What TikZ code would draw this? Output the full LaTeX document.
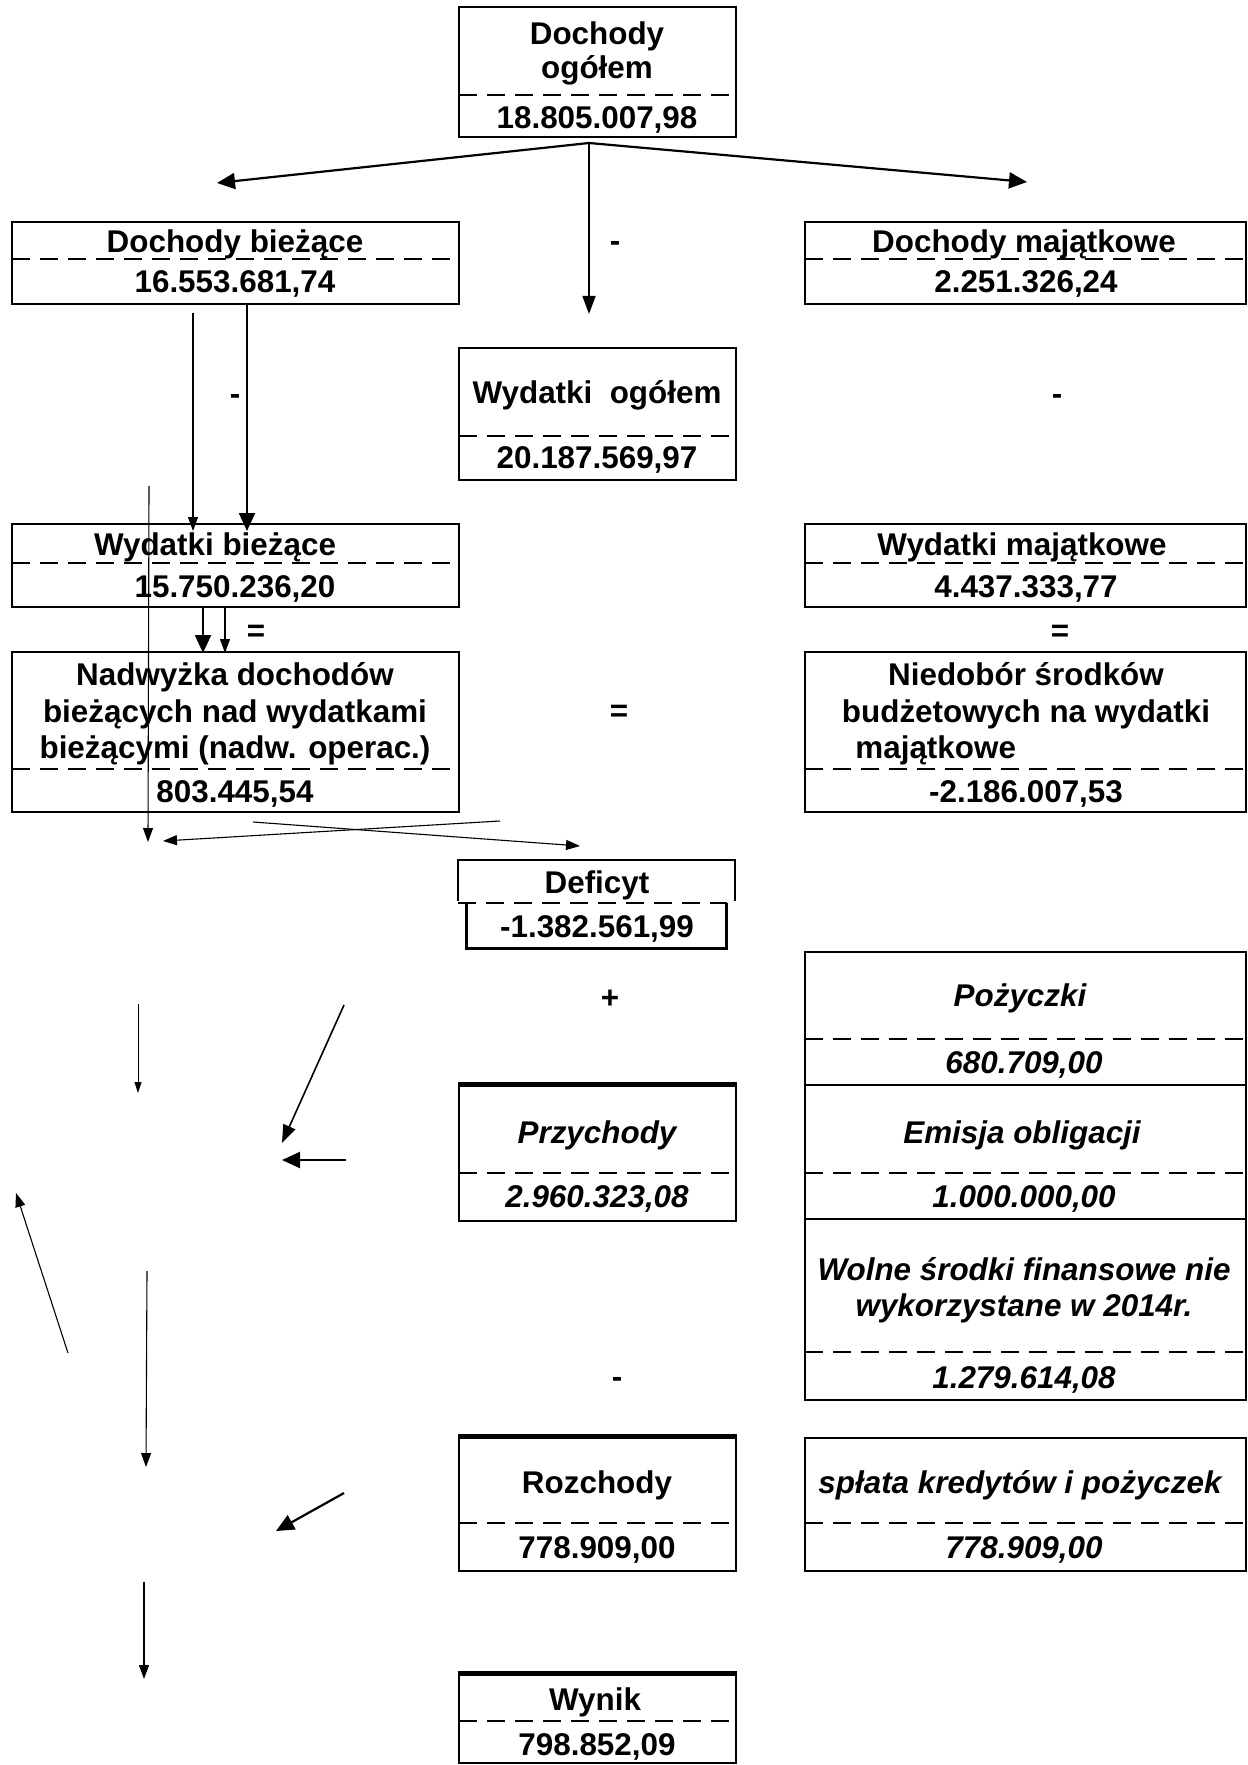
\documentclass[tikz,border=0pt]{standalone}
\usepackage{fontspec}
\setmainfont{Liberation Sans}
\usetikzlibrary{arrows.meta,fit}
\begin{document}
\begin{tikzpicture}[x=0.5pt,y=-0.5pt,
 box/.style={draw,line width=0.9pt,inner sep=0pt},
 heavy/.style={draw,line width=1.4pt,inner sep=0pt},
 sep/.style={line width=1.1pt,dash pattern=on 9pt off 5pt},
 t/.style={font=\bfseries\fontsize{15.7}{18.5}\selectfont,inner sep=0pt,anchor=base},
 ti/.style={font=\bfseries\itshape\fontsize{15.7}{18.5}\selectfont,inner sep=0pt,anchor=base},
 athick/.style={line width=1.1pt,-{Triangle[length=9pt,width=8pt]}},
 amed/.style={line width=0.8pt,-{Triangle[length=9pt,width=6.5pt]}},
 athin/.style={line width=0.55pt,-{Triangle[length=7pt,width=5pt]}},
 afine/.style={line width=0.45pt,-{Triangle[length=5.5pt,width=3.5pt]}},
]
\useasboundingbox (0,0) rectangle (1247,1765);

% ---------- boxes ----------
\node[box,fit={(459,7) (736,137)}] (dog) {};
\draw[sep] (459,95) -- (736,95);
\node[t] (dogA) at (597,45) {Dochody};
\node[t] (dogB) at (597,79) {ogółem};
\node[t] (dogV) at (597,129) {18.805.007,98};

\node[box,fit={(12,222) (459,304)}] (dbi) {};
\draw[sep] (12,259) -- (459,259);
\node[t] (dbiA) at (235,253) {Dochody bieżące};
\node[t] (dbiV) at (235,293) {16.553.681,74};

\node[box,fit={(805,222) (1246,304)}] (dma) {};
\draw[sep] (805,259) -- (1246,259);
\node[t] (dmaA) at (1024,253) {Dochody majątkowe};
\node[t] (dmaV) at (1026,293) {2.251.326,24};

\node[box,fit={(459,348) (736,480)}] (wog) {};
\draw[sep] (459,436) -- (736,436);
\node[t] (wogA) at (597,403) {Wydatki\ \ ogółem};
\node[t] (wogV) at (597,468) {20.187.569,97};

\node[box,fit={(12,524) (459,607)}] (wbi) {};
\draw[sep] (12,563) -- (459,563);
\node[t] (wbiA) at (215,555) {Wydatki bieżące};
\node[t] (wbiV) at (235,597) {15.750.236,20};

\node[box,fit={(805,524) (1246,607)}] (wma) {};
\draw[sep] (805,563) -- (1246,563);
\node[t] (wmaA) at (1022,555) {Wydatki majątkowe};
\node[t] (wmaV) at (1026,597) {4.437.333,77};

\node[box,fit={(12,652) (459,812)}] (nad) {};
\draw[sep] (12,769) -- (459,769);
\node[t] (nadA) at (235,685) {Nadwyżka dochodów};
\node[t] (nadB) at (235,722) {bieżących nad wydatkami};
\node[t] (nadC) at (235,758) {bieżącymi (nadw. operac.)};
\node[t] (nadV) at (235,802) {803.445,54};

\node[box,fit={(805,652) (1246,812)}] (nie) {};
\draw[sep] (805,769) -- (1246,769);
\node[t] (nieA) at (1026,685) {Niedobór środków};
\node[t] (nieB) at (1026,722) {budżetowych na wydatki};
\node[t,anchor=base west] (nieC) at (855,758) {majątkowe};
\node[t] (nieV) at (1026,802) {-2.186.007,53};

% Deficyt
\draw[line width=1.3pt] (458,901) -- (458,860) -- (735,860) -- (735,901);
\node[t] (defA) at (597,893) {Deficyt};
\node[inner sep=0pt,fit={(467,903) (726,948)}] (defV) {};
\draw[line width=1.3pt] (defV.north west) -- (defV.south west) -- (defV.south east) -- (defV.north east);
\draw[sep] (458,903) -- (727,903);
\node[t] (defVt) at (597,937) {-1.382.561,99};

% stack on the right
\node[box,fit={(805,952) (1246,1085)}] (poz) {};
\draw[sep] (805,1039) -- (1246,1039);
\node[ti] (pozA) at (1020,1006) {Pożyczki};
\node[ti] (pozV) at (1024,1073) {680.709,00};

\node[box,fit={(805,1085) (1246,1219)}] (emi) {};
\draw[sep] (805,1173) -- (1246,1173);
\node[ti] (emiA) at (1022,1143) {Emisja obligacji};
\node[ti] (emiV) at (1024,1207) {1.000.000,00};

\node[box,fit={(805,1219) (1246,1400)}] (wol) {};
\draw[sep] (805,1352) -- (1246,1352);
\node[ti] (wolA) at (1024,1280) {Wolne środki finansowe nie};
\node[ti] (wolB) at (1024,1316) {wykorzystane w 2014r.};
\node[ti] (wolV) at (1024,1388) {1.279.614,08};

\node[heavy,fit={(459,1086) (736,1221)}] (prz) {};
\draw[line width=2.2pt] (prz.north west) -- (prz.north east);
\draw[sep] (459,1173) -- (736,1173);
\node[ti] (przA) at (597,1143) {Przychody};
\node[ti] (przV) at (597,1207) {2.960.323,08};

\node[heavy,fit={(459,1438) (736,1571)}] (roz) {};
\draw[line width=2.2pt] (roz.north west) -- (roz.north east);
\draw[sep] (459,1523) -- (736,1523);
\node[t] (rozA) at (597,1493) {Rozchody};
\node[t] (rozV) at (597,1558) {778.909,00};

\node[box,fit={(805,1438) (1246,1571)}] (spl) {};
\draw[sep] (805,1523) -- (1246,1523);
\node[ti] (splA) at (1020,1493) {spłata kredytów i pożyczek};
\node[ti] (splV) at (1024,1558) {778.909,00};

\node[heavy,fit={(459,1675) (736,1763)}] (wyn) {};
\draw[line width=2.2pt] (wyn.north west) -- (wyn.north east);
\draw[sep] (459,1721) -- (736,1721);
\node[t] (wynA) at (595,1710) {Wynik};
\node[t] (wynV) at (597,1755) {798.852,09};

% ---------- operators ----------
\node[t] (op1) at (615,252) {-};
\node[t] (op2) at (235,404) {-};
\node[t] (op3) at (1057,404) {-};
\node[t] (op4) at (256,641) {=};
\node[t] (op5) at (1060,641) {=};
\node[t] (op6) at (619,721) {=};
\node[t] (op7) at (610,1008) {+};
\node[t] (op8) at (617,1387) {-};

% ---------- connector ends ----------
\coordinate (s0) at (589,143);
\coordinate (e1) at (217,183);
\coordinate (e2) at (1027,182);
\coordinate (e3) at (589,314);
\coordinate (s4) at (193,313);
\coordinate (e4) at (193,531);
\coordinate (s5) at (247,304);
\coordinate (e5) at (247,531);
\coordinate (s6) at (149,486);
\coordinate (e6) at (148,842);
\coordinate (s7) at (203,606);
\coordinate (e7) at (203,653);
\coordinate (s8) at (225,608);
\coordinate (e8) at (225,653);
\coordinate (s9) at (500,821);
\coordinate (e9) at (163,841);
\coordinate (s10) at (253,822);
\coordinate (e10) at (580,846);
\coordinate (s11) at (138,1004);
\coordinate (e11) at (138,1093);
\coordinate (s12) at (344,1005);
\coordinate (e12) at (282,1143);
\coordinate (s13) at (346,1160);
\coordinate (e13) at (282,1160);
\coordinate (s14) at (68,1353);
\coordinate (e14) at (16,1193);
\coordinate (s15) at (147,1271);
\coordinate (e15) at (146,1467);
\coordinate (s16) at (344,1493);
\coordinate (e16) at (276,1531);
\coordinate (s17) at (144,1582);
\coordinate (e17) at (144,1679);

% ---------- connectors ----------
\draw[athick] (s0) -- (e1);
\draw[athick] (s0) -- (e2);
\draw[amed] (s0) -- (e3);
\draw[athin] (s4) -- (e4);
\draw[athick] (s5) -- (e5);
\draw[athin] (s6) -- (e6);
\draw[athick] (s7) -- (e7);
\draw[athin] (s8) -- (e8);
\draw[athin] (s9) -- (e9);
\draw[athin] (s10) -- (e10);
\draw[afine] (s11) -- (e11);
\draw[amed] (s12) -- (e12);
\draw[athick] (s13) -- (e13);
\draw[athin] (s14) -- (e14);
\draw[athin] (s15) -- (e15);
\draw[athick] (s16) -- (e16);
\draw[athin] (s17) -- (e17);
\end{tikzpicture}
\end{document}
